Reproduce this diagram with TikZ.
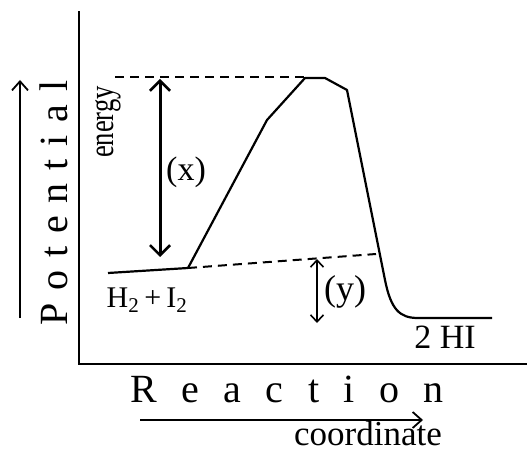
\documentclass[tikz,border=0pt]{standalone}
\usepackage{fontspec}
\setmainfont{Liberation Serif}
\usetikzlibrary{arrows.meta}
\tikzset{
  axisline/.style={line width=2.8pt, line cap=rect},
  curveline/.style={line width=2.2pt, line join=round},
  dashline/.style={line width=2pt, dash pattern=on 9pt off 6pt},
  barb/.style={-{Straight Barb[length=9pt,width=16pt,line width=1.8pt]}},
  lbl/.style={inner sep=0pt, text=black},
}
\begin{document}
\begin{tikzpicture}[x=1pt,y=-1pt]
\useasboundingbox (0,0) rectangle (527,454);
% axes
\coordinate (ytop) at (79,12);
\coordinate (orig) at (79,364);
\coordinate (xend) at (527,364);
\draw[axisline] (ytop) -- (orig) -- (xend);
% curve points
\coordinate (r0) at (108,273);
\coordinate (r1) at (188,268);
\coordinate (k1) at (267,120);
\coordinate (p1) at (305,78);
\coordinate (p2) at (325,78);
\coordinate (k2) at (347,90);
\coordinate (d1) at (385,280);
\coordinate (q0) at (418,318);
\coordinate (q1) at (492,318);
\draw[curveline] (r0) -- (r1) -- (k1) -- (p1) -- (p2) -- (k2) -- (d1)
  .. controls (391,310) and (400,318) .. (q0) -- (q1);
% dashed guides
\coordinate (dt0) at (115,77);
\coordinate (dt1) at (308,77);
\draw[dashline] (dt0) -- (dt1);
\coordinate (dl1) at (376,254);
\draw[dashline] (r1) -- (dl1);
% (x) arrow
\coordinate (xa0) at (160,257);
\coordinate (xa1) at (160,79);
\draw[line width=3pt, {Straight Barb[length=10pt,width=20pt,line width=2.6pt]}-{Straight Barb[length=10pt,width=20pt,line width=2.6pt]}] (xa0) -- (xa1);
% (y) arrow
\coordinate (ya0) at (317,259);
\coordinate (ya1) at (317,323);
\draw[line width=1.8pt, {Straight Barb[length=7pt,width=13pt,line width=1.6pt]}-{Straight Barb[length=7pt,width=13pt,line width=1.6pt]}] (ya0) -- (ya1);
% axis arrows
\coordinate (la0) at (20,318);
\coordinate (la1) at (20,80);
\draw[line width=1.8pt, barb] (la0) -- (la1);
\coordinate (ba0) at (140,420);
\coordinate (ba1) at (423,420);
\draw[line width=1.8pt, barb] (ba0) -- (ba1);
% labels
\node[lbl, rotate=90, font={\fontsize{40}{40}\selectfont\addfontfeature{LetterSpace=32}}] (pot) at (54,203) {Potential};
\node[lbl, font={\fontsize{40}{40}\selectfont\addfontfeature{LetterSpace=61}}] (rea) at (287,389) {Reaction};
\node[lbl, font={\fontsize{35}{35}\selectfont}] (coo) at (368,434) {coordinate};
\node[lbl, rotate=90, font={\fontsize{28}{28}\selectfont}] (ene) at (108,122) {\scalebox{0.95}[1.25]{energy}};
\node[lbl, font={\fontsize{34}{34}\selectfont}] (xl) at (186,172) {(x)};
\node[lbl, font={\fontsize{36}{36}\selectfont}] (yl) at (345,292) {(y)};
\node[lbl, font={\fontsize{30}{30}\selectfont}] (reac) at (147,300) {H\textsubscript{2}\,+\,I\textsubscript{2}};
\node[lbl, font={\fontsize{34}{34}\selectfont}] (prod) at (445,337) {2 HI};
\end{tikzpicture}
\end{document}
